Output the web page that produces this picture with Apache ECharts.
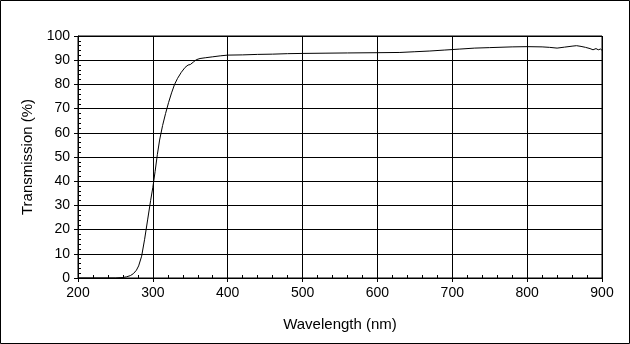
<!DOCTYPE html>
<html>
<head>
<meta charset="utf-8">
<script src="https://cdn.jsdelivr.net/npm/echarts@6/dist/echarts.min.js"></script>
<style>
html,body{margin:0;padding:0;background:#fff;}
#c{width:630px;height:344px;}
</style>
</head>
<body>
<div id="c"></div>
<script>
const wavelength = [200, 250, 260, 265, 270, 274, 278, 281, 285, 289, 293, 297, 300, 303, 306, 309, 313, 317, 321, 325, 329, 333, 338, 343, 347, 350, 354, 358, 363, 370, 380, 390, 400, 420, 440, 460, 480, 500, 530, 560, 600, 630, 650, 670, 690, 710, 730, 750, 780, 800, 820, 830, 840, 850, 860, 866, 872, 878, 884, 888, 892, 895, 898, 900];
const transmission = [0, 0, 0.2, 0.5, 1.0, 1.8, 3.2, 5, 9, 16, 24, 32, 37.5, 44, 51, 57, 63, 68, 72.5, 76.5, 80, 82.5, 85, 87, 88, 88.2, 89.2, 90.2, 90.7, 91, 91.4, 91.8, 92.1, 92.2, 92.4, 92.5, 92.7, 92.8, 92.9, 93, 93.1, 93.2, 93.5, 93.8, 94.2, 94.6, 95.0, 95.2, 95.5, 95.6, 95.5, 95.3, 95.0, 95.4, 95.8, 96, 95.7, 95.3, 94.8, 94.3, 94.8, 94.3, 94.6, 94.1];
const xTicks = [200, 300, 400, 500, 600, 700, 800, 900];
const yTicks = [0, 10, 20, 30, 40, 50, 60, 70, 80, 90, 100];

const chart = echarts.init(document.getElementById('c'), null, {renderer: 'canvas'});
const font = 'Liberation Sans, Arial, sans-serif';
const data = wavelength.map((w, i) => [w, transmission[i]]);
const line = {lineStyle: {color: '#000', width: 1}};

chart.setOption({
  animation: false,
  backgroundColor: '#fff',
  graphic: [{
    type: 'rect', silent: true,
    shape: {x: 0.5, y: 0.5, width: 629, height: 343},
    style: {fill: 'none', stroke: '#000', lineWidth: 1}
  }],
  grid: {left: 78, top: 36, right: 28, bottom: 66, show: true, borderColor: '#000', borderWidth: 1, backgroundColor: 'transparent'},
  xAxis: [{
    type: 'value', min: xTicks[0], max: xTicks[xTicks.length - 1], interval: 100,
    name: 'Wavelength (nm)', nameLocation: 'middle', nameGap: 39,
    nameTextStyle: {fontFamily: font, fontSize: 15, color: '#000'},
    axisLine: {show: true, onZero: false, ...line},
    axisTick: {show: true, inside: false, length: 4, ...line},
    minorTick: {show: false},
    axisLabel: {fontFamily: font, fontSize: 14, color: '#000', margin: 8},
    splitLine: {show: true, ...line}
  }, {
    type: 'value', min: xTicks[0], max: xTicks[xTicks.length - 1], interval: 100, position: 'bottom',
    axisLine: {show: false, onZero: false},
    axisTick: {show: false, inside: true},
    minorTick: {show: true, splitNumber: 5, length: 3, ...line},
    axisLabel: {show: false}, splitLine: {show: false}
  }],
  yAxis: [{
    type: 'value', min: yTicks[0], max: yTicks[yTicks.length - 1], interval: 10,
    name: 'Transmission (%)', nameLocation: 'middle', nameGap: 43, nameRotate: 90,
    nameTextStyle: {fontFamily: font, fontSize: 15, color: '#000'},
    axisLine: {show: true, onZero: false, ...line},
    axisTick: {show: true, inside: false, length: 4, ...line},
    minorTick: {show: false},
    axisLabel: {fontFamily: font, fontSize: 14, color: '#000', margin: 8},
    splitLine: {show: true, ...line}
  }, {
    type: 'value', min: yTicks[0], max: yTicks[yTicks.length - 1], interval: 10, position: 'left',
    axisLine: {show: false, onZero: false},
    axisTick: {show: false, inside: true},
    minorTick: {show: true, splitNumber: 5, length: 3, ...line},
    axisLabel: {show: false}, splitLine: {show: false}
  }],
  series: [{
    type: 'line', data: data, xAxisIndex: 0, yAxisIndex: 0,
    showSymbol: false, smooth: false,
    lineStyle: {color: '#000', width: 1}
  }]
});
</script>
</body>
</html>
